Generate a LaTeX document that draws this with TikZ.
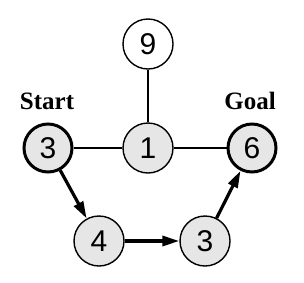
\documentclass[tikz,border=0pt]{standalone}
\usepackage{fontspec}
\setmainfont{Liberation Serif}
\newfontfamily\numfont{Liberation Sans}
\usetikzlibrary{arrows.meta}
\definecolor{nodegray}{HTML}{E6E6E6}
\begin{document}
\begin{tikzpicture}[x=1pt,y=-1pt,
  vertex/.style={circle,draw=black,line width=1.4pt,fill=nodegray,minimum size=50pt,inner sep=0pt,font=\numfont\fontsize{30}{30}\selectfont},
  open/.style={fill=white},
  endpt/.style={line width=3pt},
  edge/.style={line width=1.3pt},
  path/.style={line width=3.2pt,-{Triangle[length=17pt,width=10pt]}},
  lab/.style={font=\bfseries\fontsize{25}{25}\selectfont}]
\useasboundingbox (0,0) rectangle (304,282);
\node[vertex,open] (n9) at (148,44) {9};
\node[vertex,endpt,minimum size=48pt] (s) at (48,148) {3};
\node[vertex] (n1) at (148,148) {1};
\node[vertex,endpt,minimum size=48pt] (g) at (252,148) {6};
\node[vertex] (n4) at (99,241) {4};
\node[vertex] (n3) at (205,241) {3};
\node[lab] (ls) at (47,101) {Start};
\node[lab] (lg) at (250,101) {Goal};
\draw[edge] (n9) -- (n1);
\draw[edge] (s) -- (n1);
\draw[edge] (n1) -- (g);
\draw[path] (s) -- (n4);
\draw[path] (n4) -- (n3);
\draw[path] (n3) -- (g);
\end{tikzpicture}
\end{document}
